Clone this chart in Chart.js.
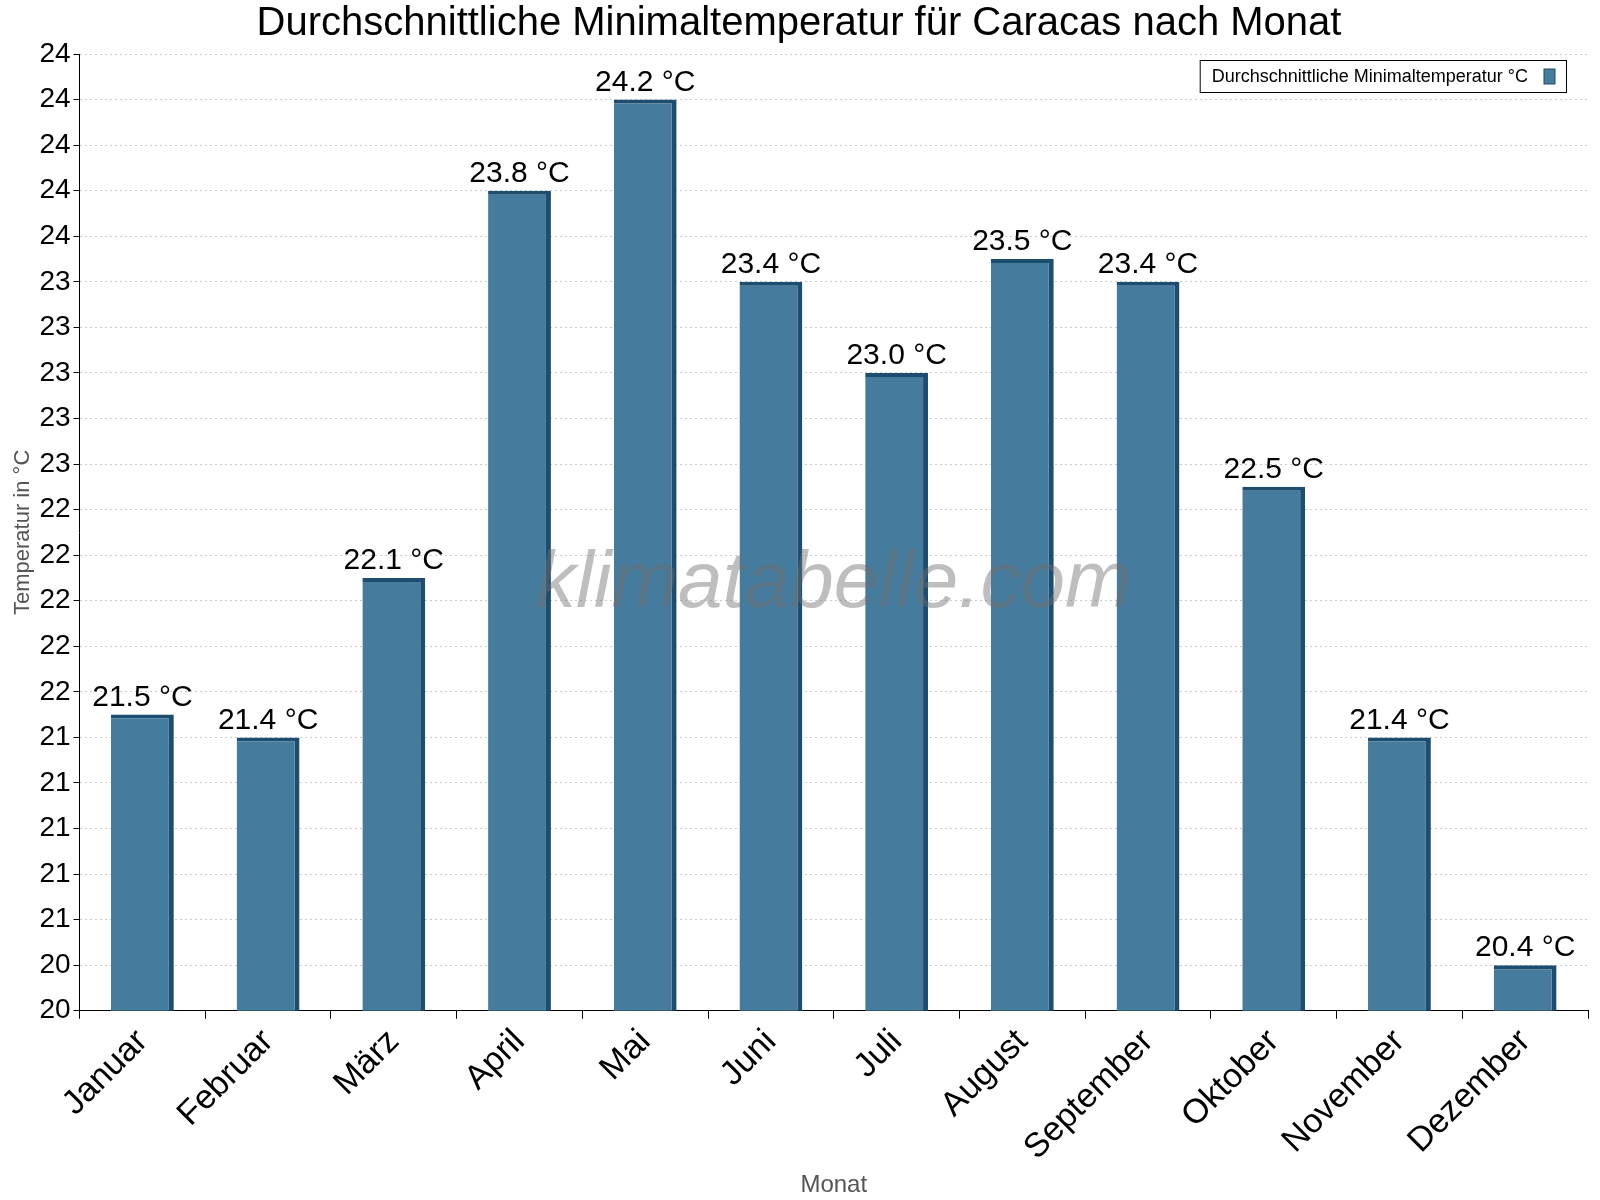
<!DOCTYPE html>
<html><head><meta charset="utf-8">
<script src="https://cdn.jsdelivr.net/npm/chart.js@4"></script>
<style>html,body{margin:0;background:#fff}#w{width:1600px;height:1200px}</style>
</head><body><div id="w"><canvas id="c"></canvas></div>
<script>
const months=["Januar","Februar","März","April","Mai","Juni","Juli","August","September","Oktober","November","Dezember"];
const temps=[21.5,21.4,22.1,23.8,24.2,23.4,23.0,23.5,23.4,22.5,21.4,20.4];
const seriesName="Durchschnittliche Minimaltemperatur °C";
const F="Liberation Sans, Arial, sans-serif";
const extras={id:'extras',
 afterDatasetsDraw(ch){const {ctx,chartArea:a}=ch;const m=ch.getDatasetMeta(0);ctx.save();ctx.font="30px "+F;ctx.fillStyle="#000";ctx.textAlign="center";ctx.textBaseline="bottom";
 m.data.forEach((b,i)=>ctx.fillText(temps[i].toFixed(1)+" °C",b.x,b.y-2));
 ctx.font="italic 80px "+F;ctx.fillStyle="rgba(110,110,110,0.45)";ctx.textBaseline="middle";ctx.fillText("klimatabelle.com",(a.left+a.right)/2,585);
 // legend
 ctx.font="18px "+F;const tw=ctx.measureText(seriesName).width;const w=tw+50,h=32,x=a.right-22-w,y=a.top+6;
 ctx.fillStyle="#fff";ctx.fillRect(x,y,w,h);ctx.strokeStyle="#000";ctx.lineWidth=1;ctx.strokeRect(x+0.5,y+0.5,w,h);
 ctx.fillStyle="#000";ctx.textAlign="left";ctx.fillText(seriesName,x+12,y+h/2+1);
 ctx.fillStyle="#457b9d";ctx.fillRect(x+w-22,y+9,11,15);ctx.strokeStyle="#1d4e6f";ctx.strokeRect(x+w-22,y+9,11,15);
 ctx.restore();}};
new Chart(document.getElementById('c'),{type:'bar',
 data:{labels:months,datasets:[{label:seriesName,data:temps,backgroundColor:'#457b9d',borderColor:'#1d4e6f',borderWidth:{top:4,right:5,left:0,bottom:0},borderSkipped:false,barPercentage:0.5,categoryPercentage:1}]},
 options:{responsive:true,maintainAspectRatio:false,animation:false,
  layout:{padding:{left:10,right:12,top:0,bottom:0}},
  plugins:{title:{display:true,text:"Durchschnittliche Minimaltemperatur für Caracas nach Monat",font:{family:F,size:40,weight:'normal'},color:'#000',padding:{top:0,bottom:6}},
   legend:{display:false},tooltip:{enabled:false}},
  scales:{
   x:{grid:{display:true,drawOnChartArea:false,color:'#000',tickLength:8},border:{color:'#000'},
    ticks:{font:{family:F,size:34},color:'#000',maxRotation:45,minRotation:45},
    title:{display:true,text:'Monat',font:{family:F,size:24},color:'#555',padding:0}},
   y:{min:20.2,max:24.4,grid:{color:'#ccc',tickLength:6,tickColor:'#000'},border:{color:'#000',dash:[2,3]},
    ticks:{stepSize:0.2,font:{family:F,size:28},color:'#000',callback:v=>Math.round(v)},
    title:{display:true,text:'Temperatur in °C',font:{family:F,size:22},color:'#555',padding:0}}}},
 plugins:[extras]});
</script></body></html>
